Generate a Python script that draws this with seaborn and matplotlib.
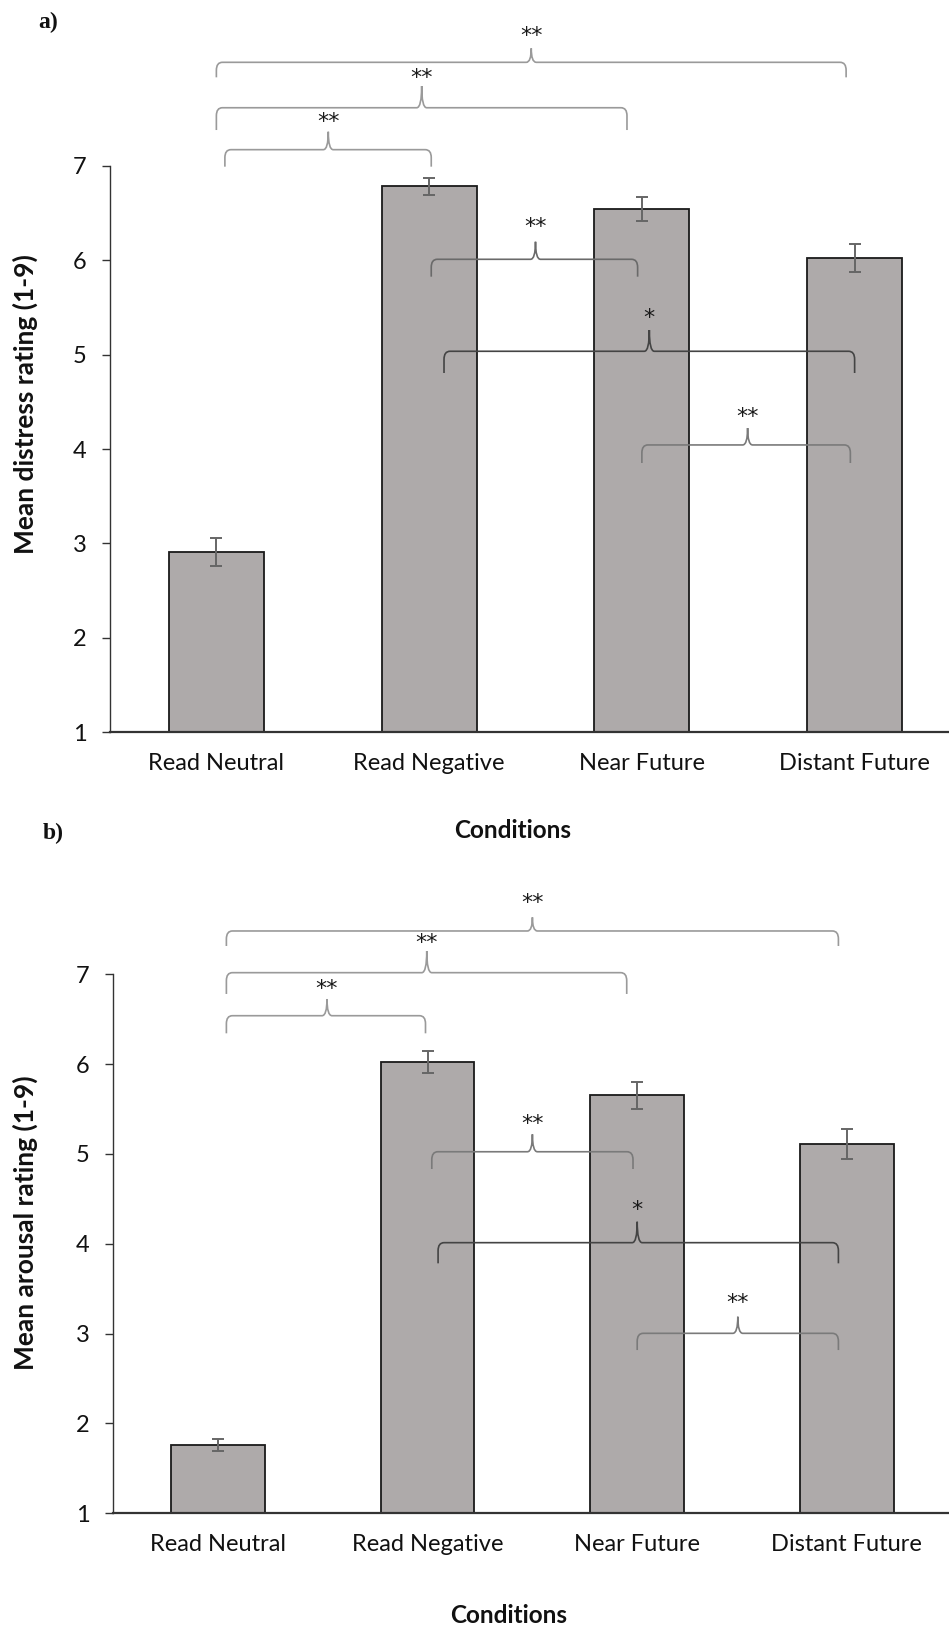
import matplotlib
matplotlib.use("Agg")
import matplotlib.pyplot as plt
import seaborn as sns
import numpy as np
import pandas as pd
from matplotlib.path import Path
from matplotlib.patches import PathPatch

# ---------------- data ----------------
conditions = ["Read Neutral", "Read Negative", "Near Future", "Distant Future"]
distress_mean = [2.91, 6.78, 6.54, 6.02]
distress_err = [0.145, 0.095, 0.127, 0.15]
arousal_mean = [1.76, 6.02, 5.65, 5.11]
arousal_err = [0.07, 0.12, 0.154, 0.165]
y_ticks = [1, 2, 3, 4, 5, 6, 7]

# significance brackets: (x_left, x_right, x_peak, y_line, y_leg_end, y_peak, y_text, label, color)
brackets_a = [
    (0.00, 2.96, 1.48, 8.095, 7.936, 8.243, 8.37, "**", "#9a9a9a"),
    (0.00, 1.93, 0.965, 7.614, 7.378, 7.844, 7.93, "**", "#9a9a9a"),
    (0.04, 1.01, 0.526, 7.17, 6.99, 7.36, 7.46, "**", "#9a9a9a"),
    (1.01, 1.98, 1.50, 6.009, 5.825, 6.195, 6.35, "**", "#6a6a6a"),
    (1.07, 3.00, 2.035, 5.035, 4.805, 5.26, 5.39, "*", "#444444"),
    (2.00, 2.98, 2.497, 4.043, 3.852, 4.222, 4.34, "**", "#7a7a7a"),
]
brackets_b = [
    (0.04, 2.96, 1.50, 7.481, 7.314, 7.633, 7.79, "**", "#9a9a9a"),
    (0.04, 1.95, 0.996, 7.017, 6.78, 7.258, 7.35, "**", "#9a9a9a"),
    (0.04, 0.99, 0.52, 6.538, 6.342, 6.724, 6.835, "**", "#9a9a9a"),
    (1.02, 1.98, 1.50, 5.024, 4.832, 5.218, 5.333, "**", "#7a7a7a"),
    (1.05, 2.96, 2.00, 4.012, 3.782, 4.245, 4.376, "*", "#444444"),
    (2.00, 2.96, 2.48, 3.003, 2.817, 3.188, 3.344, "**", "#7a7a7a"),
]

# ---------------- style ----------------
sns.set_theme(style="white")
plt.rcParams["font.family"] = ["Lato", "DejaVu Sans"]

W, H = 949, 1627
fig = plt.figure(figsize=(W / 100, H / 100), dpi=100)
fig.patch.set_facecolor("white")

BAR_COLOR = "#AEAAAA"
AX_COLOR = "#333333"


def draw_brace(ax, x0, x1, xp, yh, yend, ypeak, color, lw=1.2):
    xl = ax.get_xlim()
    yl = ax.get_ylim()
    sx = ax.bbox.width / (xl[1] - xl[0])
    sy = ax.bbox.height / (yl[1] - yl[0])
    rx, ry, wp = 6 / sx, 8 / sy, 5 / sx
    verts = [(x0, yend), (x0, yh - ry), (x0, yh), (x0 + rx, yh),
             (xp - wp, yh), (xp, yh), (xp, ypeak), (xp, yh), (xp + wp, yh),
             (x1 - rx, yh), (x1, yh), (x1, yh - ry), (x1, yend)]
    codes = [Path.MOVETO, Path.LINETO, Path.CURVE3, Path.CURVE3,
             Path.LINETO, Path.CURVE3, Path.CURVE3, Path.CURVE3, Path.CURVE3,
             Path.LINETO, Path.CURVE3, Path.CURVE3, Path.LINETO]
    patch = PathPatch(Path(verts, codes), facecolor="none", edgecolor=color,
                      lw=lw, clip_on=False, zorder=5)
    ax.add_patch(patch)


def panel(rect, means, errs, ylim, ylabel, ylab_pos, xlab_pos, brackets):
    ax = fig.add_axes(rect)
    ax.set_facecolor("none")
    df = pd.DataFrame({"Condition": conditions, "Mean": means})
    sns.barplot(data=df, x="Condition", y="Mean", color=BAR_COLOR, width=0.447,
                edgecolor="#1a1a1a", linewidth=1.3, saturation=1, ax=ax, zorder=2)
    ax.errorbar(x=np.arange(len(conditions)), y=means, yerr=errs, fmt="none",
                ecolor="#666666", elinewidth=1.4, capsize=4.5, capthick=1.4, zorder=4)
    ax.set_xlim(-0.5, 3.5)
    ax.set_ylim(*ylim)
    ax.set_yticks(y_ticks)
    ax.set_yticklabels([str(t) for t in y_ticks])
    for s in ["top", "right"]:
        ax.spines[s].set_visible(False)
    ax.spines["left"].set_bounds(1, 7)
    ax.spines["left"].set_color(AX_COLOR)
    ax.spines["left"].set_linewidth(1.0)
    ax.spines["bottom"].set_color(AX_COLOR)
    ax.spines["bottom"].set_linewidth(1.6)
    ax.spines["bottom"].set_zorder(6)
    ax.tick_params(axis="y", which="major", left=True, length=6, width=1.0,
                   color=AX_COLOR, pad=11, labelsize=17, labelcolor="#111111")
    ax.tick_params(axis="x", which="major", bottom=False, length=0, pad=15,
                   labelsize=17, labelcolor="#111111")
    ax.set_xlabel("Conditions", fontsize=17.5, fontweight="bold", color="#111111")
    ax.xaxis.set_label_coords(*xlab_pos)
    ax.xaxis.label.set_va("center")
    ax.set_ylabel(ylabel, fontsize=19, fontweight="bold", color="#111111")
    ax.yaxis.set_label_coords(*ylab_pos)
    ax.yaxis.label.set_va("center")
    ax.yaxis.label.set_ha("center")
    for (x0, x1, xp, yh, yend, ypeak, yt, lab, col) in brackets:
        draw_brace(ax, x0, x1, xp, yh, yend, ypeak, col)
        ax.text(xp, yt, lab, ha="center", va="center", fontsize=16,
                family="DejaVu Sans", color="#1a1a1a", clip_on=False, zorder=6)
    return ax


# panel a
ax_a = panel([110 / W, (H - 732.3) / H, 851 / W, 7.6 * 94.43 / H],
             distress_mean, distress_err, (1, 8.6), "Mean distress rating (1-9)",
             (-0.0999, 0.457), (0.4736, -0.1375), brackets_a)
# panel b
ax_b = panel([113.2 / W, (H - 1513.3) / H, 838.4 / W, 7 * 89.85 / H],
             arousal_mean, arousal_err, (1, 8.0), "Mean arousal rating (1-9)",
             (-0.105, 0.4624), (0.4715, -0.1617), brackets_b)

fig.text(48 / W, 1 - 22 / H, "a)", family="Liberation Serif", fontweight="bold",
         fontsize=17, ha="center", va="center", color="#111111")
fig.text(53 / W, 1 - 833 / H, "b)", family="Liberation Serif", fontweight="bold",
         fontsize=17, ha="center", va="center", color="#111111")

fig.savefig("out.png", dpi=100, facecolor="white")
